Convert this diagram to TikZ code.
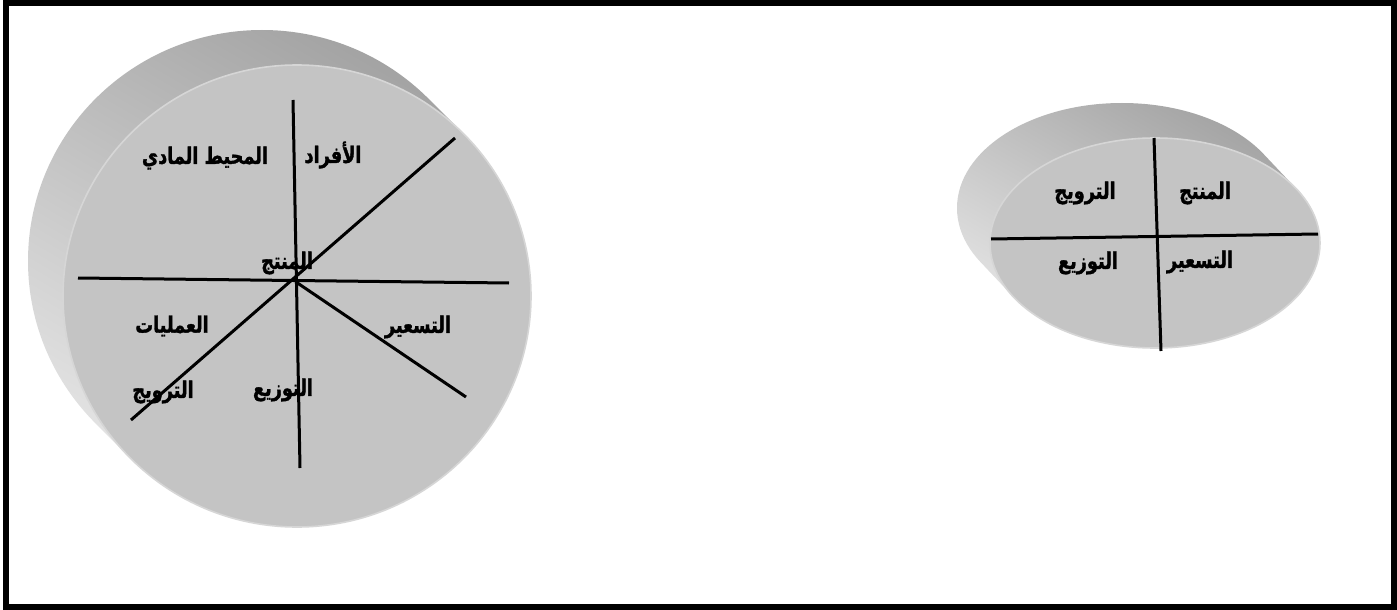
\documentclass[tikz,border=0pt]{standalone}
\usepackage{fontspec}
\newfontfamily\arabicfont[Script=Arabic, FakeStretch=0.78, BoldFeatures={FakeBold=1.5}]{DejaVu Sans}
\TeXXeTstate=1
\definecolor{face}{HTML}{C4C4C4}
\definecolor{sidedark}{HTML}{A0A0A0}
\definecolor{sidelight}{HTML}{E8E8E8}
\definecolor{rim}{HTML}{D6D6D6}
\begin{document}
\begin{tikzpicture}[x=0.75pt,y=-0.75pt,
  lbl/.style={font=\arabicfont\bfseries\fontsize{17}{20}\selectfont, inner sep=0pt},
  divider/.style={line width=2.25pt, black},
  frameline/.style={line width=4.8pt, black}]
\useasboundingbox (0,0) rectangle (1397,610);
\fill[white] (0,0) rectangle (1397,610);
\draw[frameline] (6,3) rectangle (1394,607);

% ---------- big cylinder ----------
\begin{scope}
\clip \foreach \t in {0,0.04,...,1.0001} { ({262+35*\t},{261+35*\t}) ellipse (234 and 231) };
\shade[top color=sidedark, bottom color=sidelight, shading angle=-30] (15,15) rectangle (545,545);
\end{scope}
\fill[face, draw=rim, line width=1.2pt] (297,296) ellipse (234 and 231);

\node[lbl] (afrad) at (333,155) {\beginR الأفراد\endR};
\node[lbl] (muhit) at (205,158) {\beginR المحيط المادي\endR};
\node[lbl] (muntaj1) at (287,263) {\beginR المنتج\endR};
\node[lbl] (amaliyat) at (172,326) {\beginR العمليات\endR};
\node[lbl] (tasir1) at (418,327) {\beginR التسعير\endR};
\node[lbl] (tawzi1) at (283,390) {\beginR التوزيع\endR};
\node[lbl] (tarwij1) at (163,392) {\beginR الترويج\endR};

\coordinate (vT) at (293,100);
\coordinate (vB) at (300,468);
\coordinate (hL) at (78,278);
\coordinate (hR) at (509,283);
\coordinate (dT) at (455,138);
\coordinate (dB) at (131,420);
\coordinate (ctr) at (296,282);
\coordinate (lR) at (466,397);
\draw[divider] (vT) -- (vB);
\draw[divider] (hL) -- (hR);
\draw[divider] (dT) -- (dB);
\draw[divider] (ctr) -- (lR);

% ---------- small cylinder ----------
\begin{scope}
\clip \foreach \t in {0,0.04,...,1.0001} { ({1122+33*\t},{208+35*\t}) ellipse (165 and 105) };
\shade[top color=sidedark, bottom color=sidelight, shading angle=-30] (945,95) rectangle (1330,360);
\end{scope}
\fill[face, draw=rim, line width=1.2pt] (1155,243) ellipse (165 and 105);

\node[lbl] (muntaj2) at (1205,193) {\beginR المنتج\endR};
\node[lbl] (tarwij2) at (1085,193) {\beginR الترويج\endR};
\node[lbl] (tawzi2) at (1088,263) {\beginR التوزيع\endR};
\node[lbl] (tasir2) at (1200,262) {\beginR التسعير\endR};

\coordinate (sT) at (1154,138);
\coordinate (sB) at (1161,351);
\coordinate (sL) at (991,239);
\coordinate (sR) at (1318,234);
\draw[divider] (sT) -- (sB);
\draw[divider] (sL) -- (sR);
\end{tikzpicture}
\end{document}
